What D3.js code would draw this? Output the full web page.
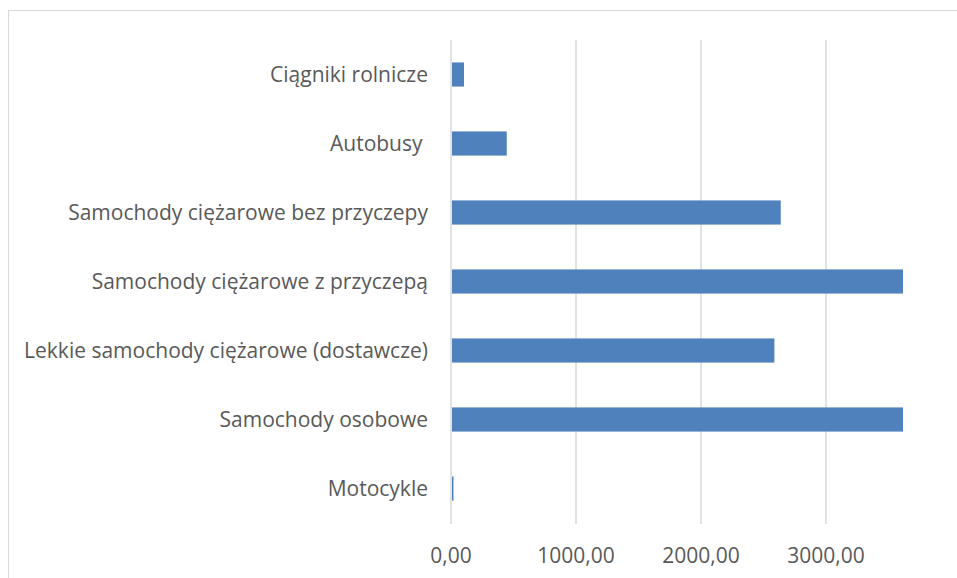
<!DOCTYPE html>
<html><head><meta charset="utf-8">
<script src="https://cdn.jsdelivr.net/npm/d3@7"></script>
<style>body{margin:0;background:#fff}text{font-family:"Open Sans",Lato,sans-serif}</style>
</head><body><svg id="c" width="957" height="578"></svg>
<script>
const categories = ["Ciągniki rolnicze","Autobusy ","Samochody ciężarowe bez przyczepy","Samochody ciężarowe z przyczepą","Lekkie samochody ciężarowe (dostawcze)","Samochody osobowe","Motocykle"];
const values = [104, 446, 2638, 3616, 2587, 3616, 20];
const tickValues = [0, 1000, 2000, 3000];
const tickLabels = ["0,00","1000,00","2000,00","3000,00"];

const svg = d3.select("#c");
svg.append("rect").attr("x",8.5).attr("y",10.5).attr("width",1000).attr("height",1000)
  .attr("fill","none").attr("stroke","#d9d9d9").attr("stroke-width",1);

const x = d3.scaleLinear().domain([0,3616]).range([451,903]).clamp(true);
const y = d3.scaleBand().domain(categories).range([40,523]).paddingInner(0.65).paddingOuter(0.325);

svg.append("g").selectAll("line").data(tickValues).join("line")
  .attr("x1",d=>x(d)).attr("x2",d=>x(d)).attr("y1",40).attr("y2",524)
  .attr("stroke","#d9d9d9").attr("stroke-width",1.5);

svg.append("g").selectAll("rect").data(values).join("rect")
  .attr("x",x(0)+1).attr("y",(d,i)=>y(categories[i]))
  .attr("width",d=>Math.max(0,x(d)-x(0)-1)).attr("height",y.bandwidth())
  .attr("fill","#4f81bd");

svg.append("g").selectAll("text").data(categories).join("text")
  .attr("x",428).attr("y",d=>y(d)+y.bandwidth()/2).attr("dy","0.35em")
  .attr("text-anchor","end").style("white-space","pre")
  .attr("font-size",21).attr("fill","#595959").text(d=>d);

svg.append("g").selectAll("text").data(tickValues).join("text")
  .attr("x",d=>x(d)).attr("y",563).attr("text-anchor","middle")
  .attr("font-size",21).attr("fill","#595959").text((d,i)=>tickLabels[i]);
</script></body></html>
